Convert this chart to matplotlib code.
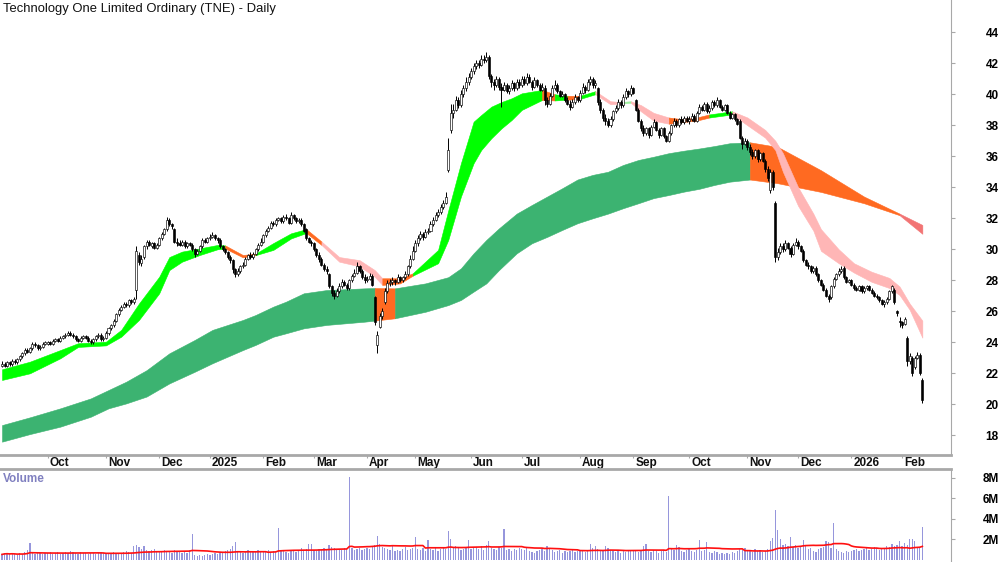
import matplotlib
matplotlib.use('Agg')
import matplotlib.pyplot as plt
import matplotlib.transforms as mtransforms
import numpy as np
import pandas as pd

plt.rcParams['font.family'] = ['Liberation Sans', 'DejaVu Sans']

title = 'Technology One Limited Ordinary (TNE) - Daily'

# ASX trading calendar for the chart period
asx_holidays = ['2024-12-25', '2024-12-26', '2025-01-01', '2025-01-27', '2025-04-18',
                '2025-04-21', '2025-04-25', '2025-06-09', '2025-12-25', '2025-12-26',
                '2026-01-01', '2026-01-26']
first_day = '2024-09-05'
last_day = '2026-02-12'

# daily prices, Sep 2024 .. Feb 2026 (one row per month)
opens = [
    22.5, 22.6, 22.5, 22.7, 22.6, 22.8, 22.7, 22.9, 23.1, 23.3, 23.5, 23.4, 23.6, 23.9, 23.8, 23.6, 23.7, 23.9,
    23.9, 24.0, 23.9, 24.1, 24.2, 24.1, 24.3, 24.4, 24.5, 24.6, 24.5, 24.4, 24.2, 24.1, 24.3, 24.4, 24.3, 24.1, 24.0, 24.2, 24.4, 24.5, 24.2,
    24.3, 24.6, 24.9, 25.1, 25.4, 25.8, 26.1, 26.3, 26.5, 26.4, 26.7, 26.6, 27.4, 29.6, 29.1, 29.5, 30.2, 30.5, 30.2, 30.4, 30.1,
    30.3, 30.7, 31.0, 31.3, 31.9, 31.6, 31.3, 30.5, 30.4, 30.3, 30.5, 30.2, 30.4, 30.3, 30.0, 29.7, 29.9, 30.2, 30.6, 30.5,
    30.7, 30.8, 30.9, 30.7, 30.6, 30.2, 30.0, 29.8, 29.5, 29.3, 28.7, 28.4, 28.6, 28.9, 29.0, 29.4, 29.6, 29.5, 29.7, 30.0, 30.3,
    30.5, 30.9, 31.2, 31.4, 31.7, 31.6, 31.9, 32.0, 31.8, 32.1, 32.0, 31.7, 32.2, 32.0, 31.8, 31.9, 31.6, 31.3, 30.7, 30.5,
    30.4, 30.0, 29.6, 29.4, 29.0, 28.7, 28.4, 27.6, 27.2, 27.0, 27.3, 27.6, 27.9, 27.7, 27.5, 28.0, 28.3, 28.5, 28.9, 28.6, 28.2,
    28.0, 28.1, 28.3, 26.9, 23.8, 25.0, 25.7, 26.6, 27.3, 27.8, 27.9, 28.0, 27.9, 28.2, 28.0, 28.2, 28.4, 28.9, 29.4,
    29.9, 30.4, 30.7, 31.0, 30.8, 31.1, 31.2, 31.6, 31.9, 32.2, 32.4, 32.7, 33.0, 35.1, 37.7, 38.8, 39.0, 39.6, 39.3, 40.0, 40.4, 40.8,
    41.1, 41.5, 41.8, 42.0, 41.9, 42.3, 42.2, 42.4, 41.2, 40.8, 40.6, 41.0, 40.5, 40.3, 40.6, 40.2, 40.4, 40.7, 40.4, 40.8,
    40.6, 41.0, 40.7, 41.1, 40.8, 40.5, 40.9, 40.6, 40.3, 40.4, 39.6, 39.4, 39.9, 40.4, 40.6, 40.2, 39.9, 40.0, 39.6, 39.4, 39.2, 39.5, 39.8,
    39.6, 40.1, 40.5, 40.3, 40.8, 41.0, 40.6, 40.4, 39.5, 39.0, 38.5, 38.3, 38.0, 38.4, 38.9, 39.1, 39.5, 39.3, 39.8, 40.2, 40.0,
    40.4, 39.6, 39.0, 38.3, 37.8, 37.5, 37.8, 37.4, 37.9, 38.2, 37.7, 37.4, 37.8, 37.3, 37.0, 37.5, 38.0, 38.3, 38.0, 38.4, 38.2, 38.5,
    38.3, 38.4, 38.6, 38.3, 38.8, 39.2, 39.0, 39.4, 38.9, 39.1, 39.5, 39.3, 39.6, 39.2, 39.0, 39.3, 38.8, 38.5, 38.7, 38.4, 38.3, 37.2, 36.8,
    37.0, 36.6, 36.3, 36.0, 36.4, 35.8, 36.2, 35.7, 35.2, 33.8, 35.0, 33.0, 29.5, 29.8, 30.2, 30.0, 30.4, 30.1, 29.7, 30.3,
    30.5, 30.2, 29.9, 29.3, 29.0, 28.9, 28.6, 28.8, 28.4, 28.0, 27.7, 27.4, 27.0, 26.9, 27.6, 28.1, 28.4, 28.6, 28.8, 28.2, 27.9,
    28.0, 27.7, 27.5, 27.4, 27.6, 27.3, 27.5, 27.6, 27.4, 27.2, 27.0, 26.9, 26.7, 26.5, 26.6, 26.8, 27.3, 27.4, 26.0, 25.4,
    25.3, 25.2, 24.3, 22.8, 23.0, 22.4, 23.0, 23.2, 21.6,
]
highs = [
    22.8, 22.7, 22.8, 22.8, 22.9, 22.9, 23.0, 23.2, 23.4, 23.6, 23.6, 23.7, 24.0, 24.0, 23.9, 23.8, 24.0, 24.1,
    24.1, 24.1, 24.2, 24.3, 24.3, 24.4, 24.5, 24.6, 24.7, 24.7, 24.6, 24.5, 24.3, 24.4, 24.5, 24.5, 24.4, 24.2, 24.3, 24.5, 24.6, 24.6, 24.4,
    24.7, 25.0, 25.2, 25.5, 25.9, 26.2, 26.4, 26.6, 26.6, 26.8, 26.8, 26.9, 30.2, 29.8, 29.6, 30.3, 30.6, 30.6, 30.5, 30.5, 30.4,
    30.8, 31.1, 31.4, 32.1, 32.0, 31.7, 31.4, 30.7, 30.6, 30.6, 30.6, 30.5, 30.5, 30.4, 30.1, 30.0, 30.3, 30.7, 30.7, 30.8,
    31.0, 31.1, 31.0, 30.8, 30.7, 30.3, 30.1, 29.9, 29.6, 29.4, 28.8, 28.8, 29.0, 29.2, 29.5, 29.7, 29.8, 29.8, 30.1, 30.4, 30.7,
    31.0, 31.3, 31.5, 31.8, 31.8, 32.0, 32.1, 32.1, 32.2, 32.3, 32.1, 32.4, 32.3, 32.1, 32.0, 32.0, 31.7, 31.4, 30.8, 30.6,
    30.5, 30.1, 29.8, 29.5, 29.1, 28.9, 28.5, 27.7, 27.4, 27.5, 27.8, 28.1, 28.0, 27.8, 28.1, 28.4, 28.7, 29.2, 29.0, 28.7, 28.4,
    28.3, 28.5, 28.4, 27.0, 24.7, 25.9, 26.2, 27.5, 28.0, 28.1, 28.2, 28.1, 28.4, 28.3, 28.3, 28.6, 29.0, 29.6, 30.2,
    30.6, 30.9, 31.2, 31.1, 31.3, 31.4, 31.8, 32.1, 32.4, 32.6, 32.9, 33.2, 33.7, 37.2, 39.4, 39.4, 39.9, 39.8, 40.3, 40.6, 41.1, 41.4,
    41.7, 42.0, 42.2, 42.2, 42.5, 42.5, 42.7, 42.5, 41.3, 41.0, 41.2, 41.1, 40.7, 40.8, 40.7, 40.6, 40.9, 40.8, 41.0, 41.0,
    41.2, 41.2, 41.4, 41.3, 40.9, 41.1, 41.0, 40.7, 40.7, 40.6, 39.8, 40.1, 40.6, 40.9, 40.7, 40.3, 40.2, 40.1, 39.8, 39.6, 39.7, 40.0, 39.9,
    40.3, 40.7, 40.6, 41.0, 41.2, 41.1, 40.9, 40.5, 39.7, 39.1, 38.7, 38.5, 38.6, 39.0, 39.3, 39.7, 39.6, 40.0, 40.4, 40.3, 40.6,
    40.5, 39.7, 39.1, 38.4, 38.0, 37.9, 37.9, 38.0, 38.4, 38.3, 37.8, 37.9, 37.9, 37.4, 37.6, 38.1, 38.5, 38.4, 38.5, 38.6, 38.6, 38.6,
    38.6, 38.8, 38.7, 38.9, 39.4, 39.3, 39.5, 39.5, 39.3, 39.6, 39.6, 39.8, 39.7, 39.3, 39.4, 39.4, 38.9, 38.8, 38.8, 38.5, 38.4, 37.3, 37.2,
    37.1, 36.8, 36.5, 36.5, 36.5, 36.3, 36.3, 35.8, 35.4, 35.2, 35.1, 33.1, 30.1, 30.4, 30.4, 30.6, 30.5, 30.2, 30.4, 30.7,
    30.6, 30.3, 30.0, 29.4, 29.2, 29.0, 28.9, 28.9, 28.5, 28.1, 27.8, 27.5, 27.1, 27.7, 28.2, 28.5, 28.8, 28.9, 28.9, 28.3, 28.1,
    28.1, 27.8, 27.6, 27.7, 27.7, 27.6, 27.7, 27.7, 27.5, 27.3, 27.1, 27.0, 26.8, 26.7, 26.9, 27.4, 27.7, 27.5, 26.1, 25.6,
    25.4, 25.6, 24.4, 23.3, 23.1, 23.1, 23.4, 23.3, 21.7,
]
lows = [
    22.4, 22.4, 22.4, 22.5, 22.5, 22.6, 22.6, 22.8, 23.0, 23.2, 23.3, 23.3, 23.5, 23.7, 23.5, 23.5, 23.6, 23.8,
    23.8, 23.8, 23.8, 24.0, 24.0, 24.0, 24.2, 24.3, 24.4, 24.4, 24.3, 24.1, 24.0, 24.0, 24.2, 24.2, 24.0, 23.9, 23.9, 24.1, 24.3, 24.1, 24.1,
    24.2, 24.5, 24.8, 25.0, 25.3, 25.7, 26.0, 26.2, 26.3, 26.3, 26.5, 26.5, 26.8, 29.0, 28.9, 29.4, 30.0, 30.2, 30.1, 30.0, 30.0,
    30.2, 30.6, 30.9, 31.2, 31.5, 31.3, 30.4, 30.2, 30.2, 30.2, 30.1, 30.1, 30.2, 29.9, 29.5, 29.6, 29.8, 30.1, 30.4, 30.4,
    30.6, 30.7, 30.6, 30.4, 30.1, 29.9, 29.7, 29.4, 29.1, 28.5, 28.2, 28.3, 28.5, 28.8, 28.9, 29.3, 29.4, 29.4, 29.6, 29.9, 30.2,
    30.4, 30.8, 31.1, 31.3, 31.5, 31.5, 31.8, 31.7, 31.7, 31.9, 31.6, 31.6, 31.9, 31.7, 31.7, 31.5, 31.1, 30.6, 30.4, 30.2,
    29.9, 29.5, 29.2, 28.9, 28.6, 28.4, 27.5, 27.0, 26.8, 26.9, 27.2, 27.5, 27.6, 27.4, 27.4, 27.9, 28.2, 28.4, 28.5, 28.1, 27.8,
    27.9, 28.0, 27.6, 25.1, 23.3, 24.9, 25.5, 26.5, 27.2, 27.6, 27.7, 27.7, 27.8, 27.9, 27.9, 28.1, 28.3, 28.8, 29.3,
    29.8, 30.2, 30.6, 30.6, 30.7, 31.0, 31.1, 31.5, 31.8, 32.1, 32.3, 32.6, 32.9, 35.0, 37.5, 38.5, 38.9, 39.1, 39.2, 39.8, 40.2, 40.6,
    41.0, 41.3, 41.6, 41.7, 41.8, 42.0, 42.1, 41.0, 40.5, 40.3, 40.5, 40.3, 39.2, 40.2, 40.1, 40.0, 40.3, 40.2, 40.3, 40.4,
    40.5, 40.6, 40.6, 40.7, 40.3, 40.4, 40.5, 40.2, 40.2, 39.3, 39.2, 39.3, 39.8, 40.3, 40.1, 39.8, 39.8, 39.5, 39.3, 39.0, 39.1, 39.4, 39.5,
    39.5, 40.0, 40.1, 40.2, 40.6, 40.4, 40.4, 39.3, 38.8, 38.3, 38.0, 37.9, 37.9, 38.3, 38.8, 39.0, 39.1, 39.2, 39.7, 39.8, 39.9,
    40.0, 38.9, 38.2, 37.6, 37.3, 37.4, 37.2, 37.3, 37.8, 37.6, 37.2, 37.3, 37.2, 36.9, 36.9, 37.4, 37.9, 37.9, 37.9, 38.1, 38.1, 38.2,
    38.1, 38.3, 38.2, 38.2, 38.7, 38.9, 38.9, 38.8, 38.8, 39.0, 39.2, 39.2, 39.1, 38.9, 38.9, 38.7, 38.4, 38.4, 38.3, 38.0, 37.1, 36.5, 36.7,
    36.4, 36.1, 35.8, 35.9, 35.6, 35.7, 35.6, 35.0, 34.4, 33.6, 33.8, 29.2, 29.3, 29.7, 29.8, 29.9, 30.0, 29.5, 29.6, 30.2,
    30.0, 29.8, 29.2, 28.9, 28.7, 28.5, 28.5, 28.3, 27.9, 27.6, 27.3, 26.9, 26.6, 26.8, 27.5, 28.0, 28.3, 28.5, 28.1, 27.8, 27.8,
    27.6, 27.4, 27.3, 27.3, 27.2, 27.2, 27.4, 27.3, 27.1, 26.9, 26.8, 26.6, 26.4, 26.3, 26.5, 26.7, 27.2, 26.5, 25.7, 25.0,
    24.9, 25.1, 22.5, 22.6, 21.8, 22.3, 22.9, 21.9, 20.1,
]
closes = [
    22.6, 22.5, 22.7, 22.6, 22.8, 22.7, 22.9, 23.1, 23.3, 23.5, 23.4, 23.6, 23.9, 23.8, 23.6, 23.7, 23.9, 24.0,
    24.0, 23.9, 24.1, 24.2, 24.1, 24.3, 24.4, 24.5, 24.6, 24.5, 24.4, 24.2, 24.1, 24.3, 24.4, 24.3, 24.1, 24.0, 24.2, 24.4, 24.5, 24.2, 24.3,
    24.6, 24.9, 25.1, 25.4, 25.8, 26.1, 26.3, 26.5, 26.4, 26.7, 26.6, 26.8, 29.9, 29.2, 29.4, 30.2, 30.5, 30.3, 30.4, 30.1, 30.3,
    30.7, 31.0, 31.3, 31.9, 31.6, 31.5, 30.5, 30.4, 30.3, 30.5, 30.2, 30.4, 30.3, 30.0, 29.7, 29.9, 30.2, 30.6, 30.5, 30.7,
    30.8, 30.9, 30.7, 30.6, 30.2, 30.0, 29.8, 29.5, 29.3, 28.7, 28.4, 28.6, 28.9, 29.0, 29.4, 29.6, 29.5, 29.7, 30.0, 30.3, 30.5,
    30.9, 31.2, 31.4, 31.7, 31.6, 31.9, 32.0, 31.8, 32.1, 32.0, 31.7, 32.2, 32.0, 31.8, 31.9, 31.6, 31.2, 30.7, 30.5, 30.4,
    30.0, 29.6, 29.4, 29.0, 28.7, 28.6, 27.6, 27.2, 27.0, 27.3, 27.6, 27.9, 27.7, 27.5, 28.0, 28.3, 28.5, 28.9, 28.6, 28.2, 28.0,
    28.1, 28.3, 27.7, 25.3, 24.5, 25.7, 26.0, 27.3, 27.8, 27.9, 28.0, 27.9, 28.2, 28.0, 28.2, 28.4, 28.9, 29.4, 29.9,
    30.4, 30.7, 31.0, 30.8, 31.1, 31.2, 31.6, 31.9, 32.2, 32.4, 32.7, 33.0, 33.4, 36.4, 38.8, 39.0, 39.6, 39.3, 40.0, 40.4, 40.8, 41.1,
    41.5, 41.8, 42.0, 41.9, 42.3, 42.2, 42.4, 41.2, 40.8, 40.6, 41.0, 40.5, 40.3, 40.6, 40.2, 40.4, 40.7, 40.4, 40.8, 40.6,
    41.0, 40.7, 41.1, 40.8, 40.5, 40.9, 40.6, 40.3, 40.5, 39.6, 39.4, 39.9, 40.4, 40.6, 40.2, 39.9, 40.0, 39.6, 39.4, 39.2, 39.5, 39.8, 39.6,
    40.1, 40.5, 40.3, 40.8, 41.0, 40.6, 40.7, 39.5, 39.0, 38.5, 38.3, 38.0, 38.4, 38.9, 39.1, 39.5, 39.3, 39.8, 40.2, 40.0, 40.4,
    40.1, 39.0, 38.3, 37.8, 37.5, 37.8, 37.4, 37.9, 38.2, 37.7, 37.4, 37.8, 37.3, 37.0, 37.5, 38.0, 38.3, 38.0, 38.4, 38.2, 38.5, 38.3,
    38.4, 38.6, 38.3, 38.8, 39.2, 39.0, 39.4, 38.9, 39.1, 39.5, 39.3, 39.6, 39.2, 39.0, 39.3, 38.8, 38.5, 38.7, 38.4, 38.1, 37.2, 36.8, 37.0,
    36.6, 36.3, 36.0, 36.4, 35.8, 36.2, 35.7, 35.2, 34.6, 35.0, 34.0, 29.5, 29.8, 30.2, 30.0, 30.4, 30.1, 29.7, 30.3, 30.5,
    30.2, 29.9, 29.3, 29.0, 28.9, 28.6, 28.8, 28.4, 28.0, 27.7, 27.4, 27.0, 26.8, 27.6, 28.1, 28.4, 28.6, 28.7, 28.2, 27.9, 28.0,
    27.7, 27.5, 27.4, 27.6, 27.3, 27.5, 27.6, 27.4, 27.2, 27.0, 26.9, 26.7, 26.5, 26.6, 26.8, 27.3, 27.6, 26.6, 25.9, 25.3,
    25.1, 25.5, 22.8, 23.1, 22.0, 23.0, 23.2, 22.0, 20.3,
]
# daily volume in millions of shares
volume_m = [
    0.5, 0.6, 0.6, 0.5, 0.6, 0.5, 0.4, 0.6, 0.5, 0.7, 0.9, 1.6, 0.6, 0.5, 0.7, 0.6, 0.5, 0.6,
    0.6, 0.7, 0.5, 0.6, 0.7, 0.5, 0.6, 0.7, 0.6, 0.8, 0.7, 0.6, 0.5, 0.7, 0.6, 0.6, 0.5, 0.6, 0.6, 0.5, 0.6, 0.7, 0.6,
    0.6, 0.5, 0.6, 0.7, 0.6, 0.5, 0.6, 0.7, 0.8, 0.7, 0.6, 1.3, 1.4, 1.2, 1.0, 1.3, 0.9, 0.8, 0.9, 1.0, 0.7,
    0.8, 0.7, 0.9, 0.8, 0.7, 0.6, 0.9, 0.7, 0.8, 0.6, 0.7, 0.6, 0.9, 2.5, 0.4, 0.3, 0.4, 0.3, 0.4, 0.5,
    0.4, 0.5, 0.6, 0.5, 0.7, 0.6, 0.8, 0.9, 1.0, 1.3, 1.7, 0.8, 0.7, 0.6, 0.7, 0.9, 0.7, 0.8, 0.7, 0.9, 0.8,
    0.7, 0.8, 0.9, 0.7, 0.8, 0.7, 3.1, 0.9, 0.8, 0.7, 0.6, 0.8, 0.9, 0.7, 0.8, 1.1, 0.9, 1.0, 1.5, 1.5,
    0.9, 0.8, 1.0, 0.9, 1.1, 0.9, 1.4, 1.2, 1.1, 0.9, 1.0, 0.9, 1.1, 1.0, 8.1, 1.1, 0.9, 1.0, 1.1, 0.9, 1.0,
    1.1, 1.0, 1.2, 1.4, 2.3, 1.5, 1.2, 1.1, 1.0, 0.9, 1.3, 0.8, 0.9, 0.8, 1.0, 1.2, 0.9, 1.0, 1.1,
    2.2, 1.0, 0.9, 1.1, 0.8, 1.9, 1.0, 0.9, 1.1, 0.8, 1.0, 1.2, 1.0, 2.8, 2.0, 1.1, 1.3, 1.2, 0.9, 1.0, 1.1, 1.9,
    1.0, 1.1, 1.2, 1.0, 1.3, 0.9, 1.4, 1.8, 1.1, 1.0, 0.9, 1.2, 1.1, 3.0, 0.9, 1.0, 0.8, 1.0, 0.9, 1.1,
    1.0, 0.9, 1.2, 0.8, 0.7, 0.6, 0.8, 0.9, 1.0, 0.8, 1.3, 1.1, 0.9, 0.7, 0.8, 0.9, 0.6, 0.8, 0.7, 0.8, 0.9, 0.7, 0.8,
    0.9, 0.8, 0.7, 0.9, 1.5, 1.1, 1.3, 1.0, 0.8, 0.9, 1.3, 1.1, 0.9, 0.8, 0.7, 0.9, 0.6, 0.8, 0.7, 0.9, 0.8,
    0.9, 0.8, 0.7, 0.9, 1.3, 1.5, 0.8, 0.7, 0.9, 0.8, 0.6, 0.8, 0.9, 0.7, 6.2, 1.0, 0.9, 1.4, 1.2, 0.8, 0.7, 0.9,
    1.0, 0.8, 0.7, 0.9, 1.9, 0.8, 0.9, 1.7, 0.7, 0.6, 0.8, 0.7, 0.5, 0.6, 0.5, 0.6, 0.5, 0.7, 0.6, 0.8, 1.0, 0.9, 1.1,
    0.9, 0.8, 0.7, 1.0, 0.8, 0.9, 0.7, 0.8, 1.0, 1.8, 2.1, 4.9, 2.9, 2.0, 1.4, 1.5, 1.3, 2.2, 1.2, 1.4,
    1.1, 1.2, 1.9, 1.3, 1.0, 1.1, 0.8, 0.7, 1.0, 1.1, 1.2, 1.8, 1.7, 1.1, 3.6, 1.0, 0.8, 0.7, 0.6, 0.8, 0.7,
    0.8, 0.9, 1.0, 0.8, 0.9, 1.0, 1.1, 0.9, 1.0, 1.2, 1.1, 0.9, 1.0, 1.1, 1.3, 1.2, 1.5, 1.3, 1.4, 1.8,
    1.3, 1.6, 1.4, 2.0, 2.0, 1.8, 1.1, 1.2, 3.2,
]

# multiple moving average ribbons, edges read at trading-day numbers
short_day = [0, 11, 23, 30, 41, 47, 54, 62, 66, 71, 78, 85, 88, 95, 100, 107, 114, 120, 126, 133,
             141, 147, 150, 157, 162, 172, 176, 181, 186, 189, 193, 197, 201, 205, 213, 218, 223, 228, 234, 240,
             244, 248, 252, 257, 263, 268, 274, 279, 288, 294, 301, 305, 308, 314, 320, 323, 330, 336, 343, 350,
             354, 358, 363]
short_hi = [22.26, 22.75, 23.5, 23.94, 24.04, 24.8, 26.5, 28.23, 29.5, 29.85, 30.06, 30.28, 30.25, 29.63, 29.72, 30.4, 31.03, 31.3, 30.5, 29.5,
            29.3, 28.66, 28.13, 28.13, 28.45, 29.96, 32.5, 35.55, 38.23, 38.66, 39.2, 39.5, 39.74, 40.06, 40.28, 40.0, 39.9, 39.9, 40.2, 39.55,
            39.5, 39.55, 39.3, 38.8, 38.5, 38.4, 38.5, 38.7, 38.9, 38.5, 37.7, 37.0, 36.2, 34.0, 32.3, 31.3, 30.0, 29.1, 28.55, 28.15,
            27.6, 26.5, 25.4]
short_lo = [21.57, 22.0, 22.97, 23.7, 23.8, 24.36, 25.44, 27.16, 28.66, 29.2, 29.63, 30.0, 30.05, 29.48, 29.62, 29.96, 30.7, 31.05, 30.28, 29.2,
            28.9, 28.23, 27.7, 27.8, 28.3, 29.1, 30.6, 33.4, 35.55, 36.4, 37.16, 37.8, 38.34, 38.99, 39.63, 39.6, 39.65, 39.7, 40.0, 39.35,
            39.4, 39.45, 38.9, 38.3, 38.1, 38.2, 38.3, 38.5, 38.7, 38.0, 37.2, 36.4, 35.0, 32.8, 31.2, 29.9, 29.1, 28.5, 27.9, 27.5,
            27.05, 26.1, 24.3]
short_state = [(0, 88, 'up'), (88, 100, 'cross'), (100, 120, 'up'), (120, 126, 'cross'), (126, 150, 'down'),
               (150, 162, 'cross'), (162, 213, 'up'), (213, 218, 'cross'), (218, 223, 'up'), (223, 228, 'cross'),
               (228, 234, 'up'), (234, 244, 'down'), (244, 248, 'flat'), (248, 263, 'down'), (263, 279, 'cross'),
               (279, 288, 'up'), (288, 363, 'down')]

long_day = [0, 11, 23, 35, 42, 49, 57, 66, 76, 83, 95, 100, 107, 112, 119, 128, 143, 147, 155, 167,
            176, 181, 186, 191, 196, 203, 209, 215, 221, 227, 233, 239, 245, 251, 257, 263, 269, 275, 281, 287,
            295, 306, 323, 340, 354, 363]
long_hi = [18.66, 19.16, 19.74, 20.38, 20.92, 21.46, 22.2, 23.29, 24.15, 24.8, 25.44, 25.76, 26.3, 26.62, 27.16, 27.37, 27.48, 27.5, 27.48, 27.8,
           28.2, 28.77, 29.74, 30.6, 31.35, 32.3, 32.86, 33.4, 33.94, 34.5, 34.8, 35.0, 35.44, 35.76, 35.97, 36.2, 36.36, 36.5, 36.66, 36.84,
           36.9, 36.6, 35.1, 33.4, 32.3, 31.57]
long_lo = [17.59, 18.08, 18.56, 19.2, 19.74, 20.06, 20.5, 21.35, 22.1, 22.65, 23.5, 23.83, 24.36, 24.58, 24.9, 25.12, 25.33, 25.4, 25.55, 25.97,
           26.4, 26.73, 27.27, 27.8, 28.66, 29.74, 30.39, 30.8, 31.25, 31.68, 32.0, 32.3, 32.65, 32.97, 33.3, 33.5, 33.72, 33.9, 34.15, 34.36,
           34.5, 34.26, 33.7, 32.97, 32.2, 31.0]
long_state = [(0, 147, 'up'), (147, 155, 'cross'), (155, 295, 'up'), (295, 354, 'cross'), (354, 363, 'down')]

short_colors = {'up': '#00ff00', 'cross': '#ff6a21', 'down': '#ffb6b6', 'flat': '#9cf09c'}
long_colors = {'up': '#3cb371', 'cross': '#ff6a21', 'down': '#f27474'}

# ---------------------------------------------------------------------------
dates = pd.bdate_range(first_day, last_day, freq='C', holidays=asx_holidays)
o = np.array(opens)
h = np.array(highs)
l = np.array(lows)
c = np.array(closes)
vol = np.array(volume_m) * 1e6
n = min(len(dates), len(c))
dates = dates[:n]
x = np.arange(n)

fig = plt.figure(figsize=(10, 5.62), dpi=100)
W, H = 1000.0, 562.0
ax = fig.add_axes([0, 1 - 455 / H, 951 / W, 455 / H])
axv = fig.add_axes([0, 0, 951 / W, 93 / H])

grey = '#a8a8a8'


def ribbon(axis, day, hi, lo, states, colors):
    day = np.array(day)
    hi = np.array(hi)
    lo = np.array(lo)
    for a, b, st in states:
        m = (day >= a) & (day <= b)
        axis.fill_between(day[m], hi[m], lo[m], color=colors[st], lw=0.4,
                          edgecolor=colors[st], zorder=1)


ribbon(ax, long_day, long_hi, long_lo, long_state, long_colors)
ribbon(ax, short_day, short_hi, short_lo, short_state, short_colors)

# candles
up = c >= o
ax.vlines(x, l, h, color='black', lw=0.7, zorder=3)
ax.bar(x[up], np.maximum(c - o, 0.04)[up], bottom=o[up], width=0.8,
       color='white', edgecolor='black', lw=0.45, zorder=4)
ax.bar(x[~up], (o - c)[~up], bottom=c[~up], width=0.8,
       color='black', edgecolor='black', lw=0.45, zorder=4)

ax.set_xlim(-0.8, 374.3)
ax.set_ylim(16.73, 46.08)
ax.yaxis.tick_right()
ax.set_yticks(range(18, 46, 2))
ax.tick_params(axis='y', length=3, color=grey, pad=22, labelsize=8.5)
for t in ax.get_yticklabels():
    t.set_fontweight('bold')
for s in ['left', 'top']:
    ax.spines[s].set_visible(False)
ax.spines['right'].set_color(grey)
ax.spines['bottom'].set_color(grey)
ax.spines['bottom'].set_linewidth(2)

# month ticks and labels
per = pd.Series(dates.to_period('M'))
starts = np.where(per.values[1:] != per.values[:-1])[0] + 1
ax.set_xticks(starts)
ax.set_xticklabels([])
ax.tick_params(axis='x', length=2.5, color=grey, direction='out')
trans = mtransforms.blended_transform_factory(ax.transData, ax.transAxes)
for s in starts:
    d = dates[s]
    lab = str(d.year) if d.month == 1 else d.strftime('%b')
    ax.text(s + 0.8, -0.0165, lab, transform=trans, ha='left', va='center',
            fontsize=8.5, fontweight='bold', color='#111111')

ax.text(0.003, 0.993, title, transform=ax.transAxes, ha='left', va='top',
        fontsize=9.4, color='#111111')

# volume panel
axv.bar(x, vol, width=0.5, color='#9696dc', zorder=2)
vol_avg = pd.Series(vol).rolling(30, min_periods=1).mean()
axv.plot(x, vol_avg, color='#ff1010', lw=1.2, zorder=3)
axv.set_xlim(-0.8, 374.3)
axv.set_ylim(-0.245e6, 8.87e6)
axv.set_xticks([])
axv.yaxis.tick_right()
axv.set_yticks([2e6, 4e6, 6e6, 8e6])
axv.set_yticklabels(['2M', '4M', '6M', '8M'])
axv.tick_params(axis='y', length=3, color=grey, pad=20, labelsize=8.5)
for t in axv.get_yticklabels():
    t.set_fontweight('bold')
for s in ['left', 'bottom']:
    axv.spines[s].set_visible(False)
axv.spines['top'].set_color(grey)
axv.spines['top'].set_linewidth(2)
axv.spines['right'].set_color(grey)
axv.text(0.003, 0.955, 'Volume', transform=axv.transAxes, ha='left', va='top',
         fontsize=8.5, fontweight='bold', color='#8080c0')

fig.savefig('out.png', dpi=100)
